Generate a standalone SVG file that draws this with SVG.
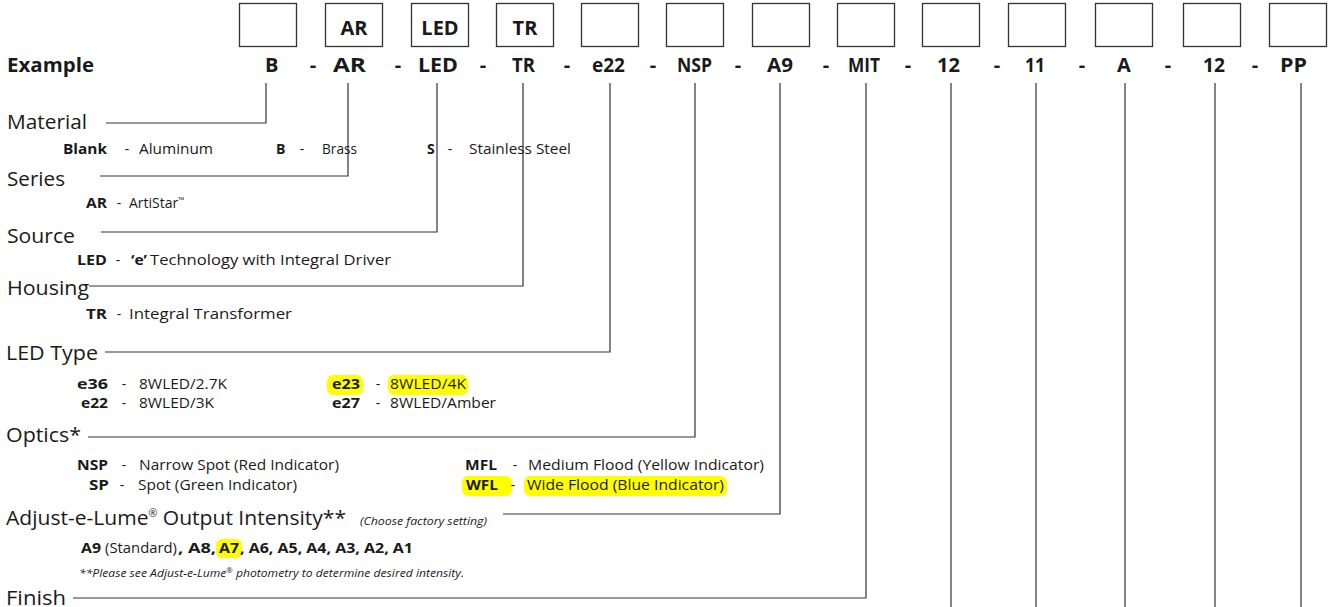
<svg xmlns="http://www.w3.org/2000/svg" width="1328" height="607" viewBox="0 0 1328 607">
<style>
text{font-family:"Open Sans","Noto Sans",sans-serif;fill:#1a1a1a}
.box{fill:#fff;stroke:#333;stroke-width:1.3}
.bt{font-size:20px;font-weight:700;text-anchor:middle}
.code{font-size:20px;font-weight:700}
.lbl{font-size:20px}
.b{font-size:14px;font-weight:700}
.r{font-size:14px}
.d{font-size:14px;text-anchor:middle}
.it{font-size:11px;font-style:italic}
.hl{fill:#ffff00}
.ln{fill:none;stroke:#333;stroke-width:1.2}
</style>
<g id="boxes">
<g id="box-1"><rect class="box" x="239.5" y="3.5" width="57" height="43"/></g>
<g id="box-2"><rect class="box" x="325.5" y="3.5" width="57" height="43"/><text class="bt" x="354" y="35">AR</text></g>
<g id="box-3"><rect class="box" x="411.5" y="3.5" width="57" height="43"/><text class="bt" x="440" y="35">LED</text></g>
<g id="box-4"><rect class="box" x="496.5" y="3.5" width="57" height="43"/><text class="bt" x="525" y="35">TR</text></g>
<g id="box-5"><rect class="box" x="581.5" y="3.5" width="57" height="43"/></g>
<g id="box-6"><rect class="box" x="666.5" y="3.5" width="57" height="43"/></g>
<g id="box-7"><rect class="box" x="752.5" y="3.5" width="57" height="43"/></g>
<g id="box-8"><rect class="box" x="837.5" y="3.5" width="57" height="43"/></g>
<g id="box-9"><rect class="box" x="922.5" y="3.5" width="57" height="43"/></g>
<g id="box-10"><rect class="box" x="1008.5" y="3.5" width="57" height="43"/></g>
<g id="box-11"><rect class="box" x="1095.5" y="3.5" width="57" height="43"/></g>
<g id="box-12"><rect class="box" x="1183.5" y="3.5" width="57" height="43"/></g>
<g id="box-13"><rect class="box" x="1269.5" y="3.5" width="57" height="43"/></g>
</g>
<g id="example-row">
<text class="code" x="7" y="72" textLength="87" lengthAdjust="spacingAndGlyphs">Example</text>
<text class="code" x="265" y="72">B</text>
<text class="code" x="333" y="72" textLength="33" lengthAdjust="spacingAndGlyphs">AR</text>
<text class="code" x="418" y="72" textLength="40" lengthAdjust="spacingAndGlyphs">LED</text>
<text class="code" x="512" y="72" textLength="23" lengthAdjust="spacingAndGlyphs">TR</text>
<text class="code" x="592" y="72" textLength="33" lengthAdjust="spacingAndGlyphs">e22</text>
<text class="code" x="677" y="72" textLength="35" lengthAdjust="spacingAndGlyphs">NSP</text>
<text class="code" x="767" y="72" textLength="26" lengthAdjust="spacingAndGlyphs">A9</text>
<text class="code" x="848" y="72" textLength="32" lengthAdjust="spacingAndGlyphs">MIT</text>
<text class="code" x="937" y="72" textLength="23" lengthAdjust="spacingAndGlyphs">12</text>
<text class="code" x="1025" y="72" textLength="20" lengthAdjust="spacingAndGlyphs">11</text>
<text class="code" x="1117" y="72">A</text>
<text class="code" x="1203" y="72" textLength="22" lengthAdjust="spacingAndGlyphs">12</text>
<text class="code" x="1280" y="72" textLength="27" lengthAdjust="spacingAndGlyphs">PP</text>
<g style="text-anchor:middle">
<text class="code" x="313" y="72">-</text><text class="code" x="398" y="72">-</text><text class="code" x="483" y="72">-</text><text class="code" x="567" y="72">-</text><text class="code" x="653" y="72">-</text><text class="code" x="738" y="72">-</text><text class="code" x="826" y="72">-</text><text class="code" x="908" y="72">-</text><text class="code" x="997" y="72">-</text><text class="code" x="1082" y="72">-</text><text class="code" x="1168" y="72">-</text><text class="code" x="1255" y="72">-</text>
</g>
</g>
<g id="connectors">
<polyline class="ln" points="106,123 266,123 266,83"/>
<polyline class="ln" points="100,176 348,176 348,83"/>
<polyline class="ln" points="101,232 437,232 437,83"/>
<polyline class="ln" points="89,286 523,286 523,83"/>
<polyline class="ln" points="105,352 610,352 610,83"/>
<polyline class="ln" points="88,437 695,437 695,83"/>
<polyline class="ln" points="503,514 780,514 780,83"/>
<polyline class="ln" points="73,598 866,598 866,83"/>
<line class="ln" x1="951" y1="83" x2="951" y2="607"/>
<line class="ln" x1="1036" y1="83" x2="1036" y2="607"/>
<line class="ln" x1="1125" y1="83" x2="1125" y2="607"/>
<line class="ln" x1="1215" y1="83" x2="1215" y2="607"/>
<line class="ln" x1="1301" y1="83" x2="1301" y2="607"/>
</g>
<g id="material">
<text class="lbl" x="7" y="129" textLength="80" lengthAdjust="spacingAndGlyphs">Material</text>
<text class="b" x="63" y="154" textLength="44" lengthAdjust="spacingAndGlyphs">Blank</text>
<text class="d" x="127" y="154">-</text>
<text class="r" x="139" y="154" textLength="74" lengthAdjust="spacingAndGlyphs">Aluminum</text>
<text class="b" x="276" y="154">B</text>
<text class="d" x="302" y="154">-</text>
<text class="r" x="322" y="154" textLength="35" lengthAdjust="spacingAndGlyphs">Brass</text>
<text class="b" x="427" y="154">S</text>
<text class="d" x="450" y="154">-</text>
<text class="r" x="469" y="154" textLength="102" lengthAdjust="spacingAndGlyphs">Stainless Steel</text>
</g>
<g id="series">
<text class="lbl" x="7" y="186" textLength="58" lengthAdjust="spacingAndGlyphs">Series</text>
<text class="b" x="86" y="208" textLength="21" lengthAdjust="spacingAndGlyphs">AR</text>
<text class="d" x="119" y="208">-</text>
<text class="r" x="129" y="208">ArtiStar<tspan style="font-size:8px" dy="-5">™</tspan></text>
</g>
<g id="source">
<text class="lbl" x="7" y="243" textLength="68" lengthAdjust="spacingAndGlyphs">Source</text>
<text class="b" x="77" y="265" textLength="30" lengthAdjust="spacingAndGlyphs">LED</text>
<text class="d" x="118" y="265">-</text>
<text class="b" x="131" y="265" textLength="16" lengthAdjust="spacingAndGlyphs">‘e’</text>
<text class="r" x="150" y="265" textLength="241" lengthAdjust="spacingAndGlyphs">Technology with Integral Driver</text>
</g>
<g id="housing">
<text class="lbl" x="7" y="295" textLength="82" lengthAdjust="spacingAndGlyphs">Housing</text>
<text class="b" x="86" y="319" textLength="21" lengthAdjust="spacingAndGlyphs">TR</text>
<text class="d" x="119" y="319">-</text>
<text class="r" x="129" y="319" textLength="163" lengthAdjust="spacingAndGlyphs">Integral Transformer</text>
</g>
<g id="led-type">
<text class="lbl" x="6" y="360" textLength="92" lengthAdjust="spacingAndGlyphs">LED Type</text>
<rect class="hl" x="327" y="375" width="36" height="20" rx="6"/>
<rect class="hl" x="388" y="375" width="80" height="20" rx="6"/>
<text class="b" x="77" y="389" textLength="31" lengthAdjust="spacingAndGlyphs">e36</text>
<text class="d" x="124" y="389">-</text>
<text class="r" x="139" y="389" textLength="88" lengthAdjust="spacingAndGlyphs">8WLED/2.7K</text>
<text class="b" x="332" y="389" textLength="28" lengthAdjust="spacingAndGlyphs">e23</text>
<text class="d" x="378" y="389">-</text>
<text class="r" x="390" y="389" textLength="76" lengthAdjust="spacingAndGlyphs">8WLED/4K</text>
<text class="b" x="81" y="408" textLength="27" lengthAdjust="spacingAndGlyphs">e22</text>
<text class="d" x="124" y="408">-</text>
<text class="r" x="139" y="408" textLength="75" lengthAdjust="spacingAndGlyphs">8WLED/3K</text>
<text class="b" x="332" y="408" textLength="28" lengthAdjust="spacingAndGlyphs">e27</text>
<text class="d" x="378" y="408">-</text>
<text class="r" x="390" y="408" textLength="106" lengthAdjust="spacingAndGlyphs">8WLED/Amber</text>
</g>
<g id="optics">
<text class="lbl" x="6" y="442" textLength="75" lengthAdjust="spacingAndGlyphs">Optics*</text>
<rect class="hl" x="462" y="476" width="50" height="20" rx="6"/>
<rect class="hl" x="524" y="476" width="203" height="20" rx="6"/>
<text class="b" x="77" y="470" textLength="31" lengthAdjust="spacingAndGlyphs">NSP</text>
<text class="d" x="124" y="470">-</text>
<text class="r" x="139" y="470" textLength="200" lengthAdjust="spacingAndGlyphs">Narrow Spot (Red Indicator)</text>
<text class="b" x="465" y="470" textLength="32" lengthAdjust="spacingAndGlyphs">MFL</text>
<text class="d" x="515" y="470">-</text>
<text class="r" x="528" y="470" textLength="236" lengthAdjust="spacingAndGlyphs">Medium Flood (Yellow Indicator)</text>
<text class="b" x="89" y="490" textLength="20" lengthAdjust="spacingAndGlyphs">SP</text>
<text class="d" x="122" y="490">-</text>
<text class="r" x="138" y="490" textLength="159" lengthAdjust="spacingAndGlyphs">Spot (Green Indicator)</text>
<text class="b" x="466" y="490" textLength="32" lengthAdjust="spacingAndGlyphs">WFL</text>
<text class="d" x="513" y="490">-</text>
<text class="r" x="527" y="490" textLength="197" lengthAdjust="spacingAndGlyphs">Wide Flood (Blue Indicator)</text>
</g>
<g id="adjust">
<text class="lbl" x="6" y="525" textLength="340" lengthAdjust="spacingAndGlyphs">Adjust-e-Lume<tspan style="font-size:10px" dy="-8">®</tspan><tspan dy="8"> Output Intensity**</tspan></text>
<text class="it" x="360" y="525" textLength="127" lengthAdjust="spacingAndGlyphs">(Choose factory setting)</text>
<rect class="hl" x="216" y="539" width="26" height="19" rx="6"/>
<g style="font-size:14px">
<text x="81" y="553" font-weight="700" textLength="20" lengthAdjust="spacingAndGlyphs">A9</text>
<text x="105" y="553" textLength="72" lengthAdjust="spacingAndGlyphs">(Standard)</text>
<text x="178" y="553" font-weight="700" textLength="38" lengthAdjust="spacingAndGlyphs">, A8,</text>
<text x="219" y="553" font-weight="700" textLength="20" lengthAdjust="spacingAndGlyphs">A7</text>
<text x="240" y="553" font-weight="700" textLength="173" lengthAdjust="spacingAndGlyphs">, A6, A5, A4, A3, A2, A1</text>
</g>
<text class="it" x="79" y="577" textLength="385" lengthAdjust="spacingAndGlyphs">**Please see Adjust-e-Lume<tspan style="font-size:7px" dy="-4">®</tspan><tspan dy="4"> photometry to determine desired intensity.</tspan></text>
</g>
<g id="finish">
<text class="lbl" x="6" y="605" textLength="60" lengthAdjust="spacingAndGlyphs">Finish</text>
</g>
</svg>
